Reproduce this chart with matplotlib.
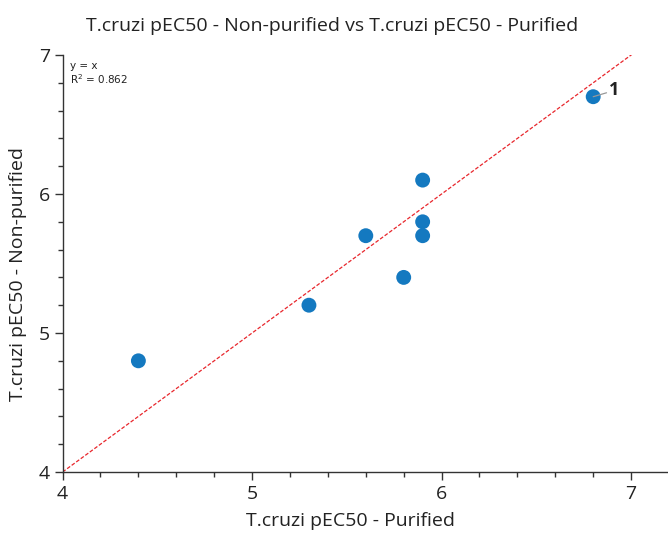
import matplotlib.pyplot as plt
from matplotlib.ticker import MultipleLocator

# Data
purified = [4.4, 5.3, 5.6, 5.8, 5.9, 5.9, 5.9, 6.8]
non_purified = [4.8, 5.2, 5.7, 5.4, 6.1, 5.8, 5.7, 6.7]
point_labels = ["", "", "", "", "", "", "", "1"]
r_squared = 0.862

TEXT = "#222222"
plt.rcParams["font.family"] = ["Open Sans", "DejaVu Sans"]

fig = plt.figure(figsize=(6.68, 5.34), dpi=100)
ax = fig.add_axes([0.0937, 0.1161, 0.9078, 0.7809])
ax.set_xlim(4, 7.2)
ax.set_ylim(4, 7)

# identity line
ax.plot([4, 7.2], [4, 7.2], color="#e8262c", lw=0.9, ls=(0, (3, 1.5)), zorder=1)
ax.scatter(purified, non_purified, s=115, color="#1479c0", edgecolors="none", zorder=3)

for x, y, lab in zip(purified, non_purified, point_labels):
    if lab:
        ax.annotate(lab, xy=(x, y), xytext=(x + 0.085, y + 0.045),
                    fontsize=13, fontweight="bold", color=TEXT,
                    va="center", ha="left",
                    arrowprops=dict(arrowstyle="-", color="#999999", lw=0.9,
                                    shrinkA=0, shrinkB=0))

ax.text(0.012, 0.985, f"y = x\nR$^2$ = {r_squared:.3f}",
        transform=ax.transAxes, fontsize=7.5, va="top", ha="left",
        color=TEXT, linespacing=1.05, family="DejaVu Sans")

for side in ("top", "right"):
    ax.spines[side].set_visible(False)
for side in ("left", "bottom"):
    ax.spines[side].set_color("#333333")
    ax.spines[side].set_linewidth(1.0)

ax.xaxis.set_major_locator(MultipleLocator(1))
ax.xaxis.set_minor_locator(MultipleLocator(0.2))
ax.yaxis.set_major_locator(MultipleLocator(1))
ax.yaxis.set_minor_locator(MultipleLocator(0.2))
ax.tick_params(which="major", length=6, width=1.0, color="#333333",
               labelsize=14, labelcolor=TEXT, pad=3)
ax.tick_params(which="minor", length=3.5, width=1.0, color="#333333")

ax.set_xlabel("T.cruzi pEC50 - Purified", fontsize=14, color=TEXT)
ax.set_ylabel("T.cruzi pEC50 - Non-purified", fontsize=14, color=TEXT)
ax.xaxis.set_label_coords(0.475, -0.097)
ax.yaxis.set_label_coords(-0.058, 0.475)
fig.suptitle("T.cruzi pEC50 - Non-purified vs T.cruzi pEC50 - Purified",
             x=0.497, y=0.968, fontsize=14, color=TEXT)

fig.savefig("out.png", dpi=100)
